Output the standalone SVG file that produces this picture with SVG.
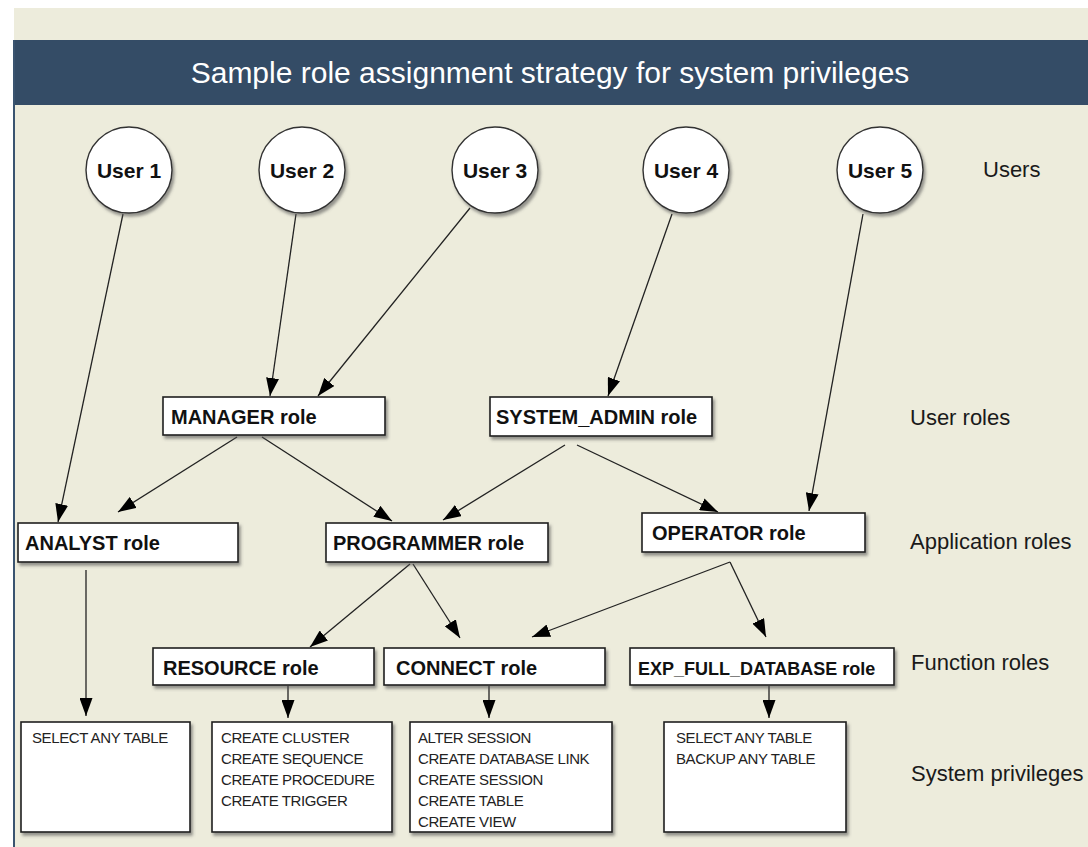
<svg xmlns="http://www.w3.org/2000/svg" width="1088" height="847" viewBox="0 0 1088 847">
<style>
.box{fill:#ffffff;stroke:#1e1e1e;stroke-width:1.6;filter:url(#sh)}
.circ{fill:#ffffff;stroke:#333;stroke-width:1.4;filter:url(#sh)}
.ut{font-family:"Liberation Sans",Arial,sans-serif;font-weight:bold;font-size:21px;fill:#111;text-anchor:middle}
.rt{font-family:"Liberation Sans",Arial,sans-serif;font-weight:bold;font-size:20px;fill:#111}
.pt{font-family:"Liberation Sans",Arial,sans-serif;font-size:15px;fill:#222;letter-spacing:-0.4px}
.lt{font-family:"Liberation Sans",Arial,sans-serif;font-size:22px;fill:#1a1a1a}
.cn{stroke:#222;stroke-width:1.3;fill:none;marker-end:url(#ah)}
</style>
<defs>
<filter id="sh" x="-10%" y="-10%" width="130%" height="140%">
<feDropShadow dx="2" dy="3" stdDeviation="1.5" flood-color="#555" flood-opacity="0.6"/>
</filter>
<marker id="ah" markerUnits="userSpaceOnUse" markerWidth="19" markerHeight="13" refX="18" refY="6.5" orient="auto">
<path d="M0,0 L18,6.5 L0,13 z" fill="#000"/>
</marker>
</defs>
<rect x="0" y="0" width="1088" height="847" fill="#ffffff"/>
<rect x="14" y="8" width="1074" height="839" fill="#edecdc"/>
<g id="header">
<rect x="14" y="40" width="1074" height="65" fill="#344c66"/>
<text x="550" y="83" font-family="'Liberation Sans',Arial,sans-serif" font-size="30" fill="#ffffff" text-anchor="middle">Sample role assignment strategy for system privileges</text>
</g>
<line x1="14" y1="40" x2="14" y2="847" stroke="#3a5470" stroke-width="2"/>

<g id="connectors">
<line class="cn" x1="123" y1="214" x2="58" y2="522"/>
<line class="cn" x1="296" y1="214" x2="270" y2="396"/>
<line class="cn" x1="470" y1="208" x2="318" y2="396"/>
<line class="cn" x1="672" y1="214" x2="608" y2="396"/>
<line class="cn" x1="863" y1="214" x2="809" y2="511"/>
<line class="cn" x1="237" y1="437" x2="118" y2="512"/>
<line class="cn" x1="262" y1="437" x2="392" y2="521"/>
<line class="cn" x1="565" y1="445" x2="443" y2="520"/>
<line class="cn" x1="577" y1="445" x2="718" y2="512"/>
<line class="cn" x1="86" y1="570" x2="86" y2="716"/>
<line class="cn" x1="410" y1="564" x2="310" y2="647"/>
<line class="cn" x1="413" y1="564" x2="460" y2="638"/>
<line class="cn" x1="730" y1="562" x2="532" y2="637"/>
<line class="cn" x1="730" y1="562" x2="766" y2="637"/>
<line class="cn" x1="288" y1="686" x2="288" y2="718"/>
<line class="cn" x1="489" y1="686" x2="489" y2="718"/>
<line class="cn" x1="769" y1="686" x2="769" y2="718"/>
</g>

<g id="user1"><circle class="circ" cx="129" cy="170" r="43"/><text class="ut" x="129" y="178">User 1</text></g>
<g id="user2"><circle class="circ" cx="302" cy="170" r="43"/><text class="ut" x="302" y="178">User 2</text></g>
<g id="user3"><circle class="circ" cx="495" cy="170" r="43"/><text class="ut" x="495" y="178">User 3</text></g>
<g id="user4"><circle class="circ" cx="686" cy="170" r="43"/><text class="ut" x="686" y="178">User 4</text></g>
<g id="user5"><circle class="circ" cx="880" cy="170" r="43"/><text class="ut" x="880" y="178">User 5</text></g>

<g id="manager"><rect class="box" x="163" y="397" width="222" height="38"/><text class="rt" x="171" y="424">MANAGER role</text></g>
<g id="sysadmin"><rect class="box" x="490" y="397" width="222" height="39"/><text class="rt" x="496" y="424">SYSTEM_ADMIN role</text></g>
<g id="analyst"><rect class="box" x="18" y="523" width="220" height="39"/><text class="rt" x="25" y="550">ANALYST role</text></g>
<g id="programmer"><rect class="box" x="326" y="523" width="222" height="39"/><text class="rt" x="333" y="550">PROGRAMMER role</text></g>
<g id="operator"><rect class="box" x="642" y="513" width="223" height="39"/><text class="rt" x="652" y="540">OPERATOR role</text></g>
<g id="resource"><rect class="box" x="153" y="648" width="221" height="37"/><text class="rt" x="163" y="675">RESOURCE role</text></g>
<g id="connect"><rect class="box" x="384" y="648" width="221" height="37"/><text class="rt" x="396" y="675">CONNECT role</text></g>
<g id="expfull"><rect class="box" x="630" y="648" width="264" height="37"/><text class="rt" x="638" y="675" style="font-size:18px">EXP_FULL_DATABASE role</text></g>

<g id="priv1"><rect class="box" x="21" y="722" width="169" height="110"/><text class="pt" x="32" y="743">SELECT ANY TABLE</text></g>
<g id="priv2"><rect class="box" x="212" y="722" width="180" height="110"/>
<text class="pt" x="221" y="743">CREATE CLUSTER</text><text class="pt" x="221" y="764">CREATE SEQUENCE</text><text class="pt" x="221" y="785">CREATE PROCEDURE</text><text class="pt" x="221" y="806">CREATE TRIGGER</text></g>
<g id="priv3"><rect class="box" x="410" y="722" width="202" height="110"/>
<text class="pt" x="418" y="743">ALTER SESSION</text><text class="pt" x="418" y="764">CREATE DATABASE LINK</text><text class="pt" x="418" y="785">CREATE SESSION</text><text class="pt" x="418" y="806">CREATE TABLE</text><text class="pt" x="418" y="827">CREATE VIEW</text></g>
<g id="priv4"><rect class="box" x="664" y="722" width="182" height="110"/>
<text class="pt" x="676" y="743">SELECT ANY TABLE</text><text class="pt" x="676" y="764">BACKUP ANY TABLE</text></g>

<g id="labels">
<text class="lt" x="983" y="177">Users</text>
<text class="lt" x="910" y="425">User roles</text>
<text class="lt" x="910" y="549">Application roles</text>
<text class="lt" x="911" y="670">Function roles</text>
<text class="lt" x="911" y="781">System privileges</text>
</g>
</svg>
